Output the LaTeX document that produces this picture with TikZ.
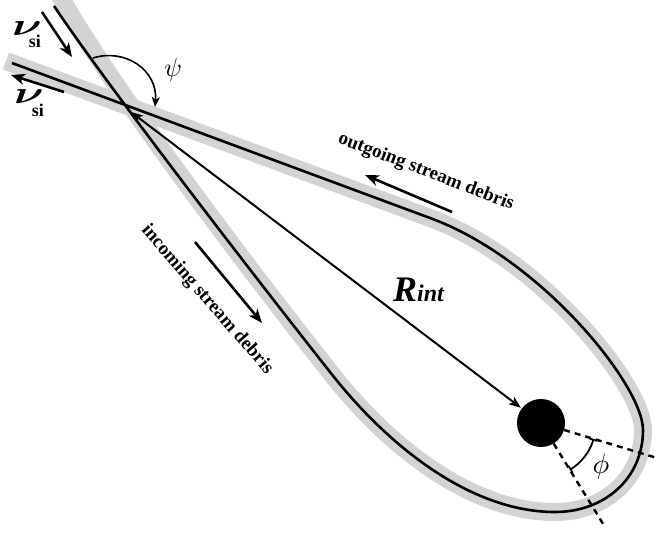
\documentclass[tikz,border=0pt]{standalone}
\usepackage{fontspec}
\setmainfont{Liberation Serif}
\usepackage{graphicx}
\usetikzlibrary{arrows.meta}
\definecolor{bandgray}{RGB}{211,211,211}
\begin{document}
\begin{tikzpicture}[x=1pt,y=-1pt,
  band/.style={line width=18pt, draw=bandgray, line join=round},
  stream/.style={line width=2.6pt, draw=black, line join=round},
  vel/.style={line width=2.6pt, -{Stealth[length=14pt,width=11pt,inset=4pt]}},
  dirarrow/.style={line width=2.6pt, -{Stealth[length=14pt,width=11pt,inset=4pt]}},
  lbl/.style={font=\bfseries\fontsize{19}{19}\selectfont, inner sep=0pt},
  sub/.style={font=\bfseries\fontsize{18}{18}\selectfont, inner sep=0pt},
  ray/.style={line width=2.4pt, dash pattern=on 6pt off 5pt}]
\useasboundingbox (0,0) rectangle (659,534);
% gray band and stream line
\draw[band] (60,-4) .. controls (106,80) and (240,258) .. (330,372)
  .. controls (387,445) and (470,512) .. (555,512)
  .. controls (605,512) and (643,478) .. (643,430)
  .. controls (643,385) and (540,258) .. (430,218) -- (6,61);
\draw[stream] (54,6) .. controls (105,82) and (240,258) .. (330,372)
  .. controls (387,445) and (470,512) .. (555,512)
  .. controls (605,512) and (643,478) .. (643,430)
  .. controls (643,385) and (540,258) .. (430,218) -- (12,63);
% black hole
\node[circle, fill=black, minimum size=48pt, inner sep=0pt] (bh) at (541,423) {};
\coordinate (X) at (131,112);
\draw[line width=2pt, {Stealth[length=12pt,width=9pt,inset=3pt]}-{Stealth[length=12pt,width=9pt,inset=3pt]}, shorten >=1pt] (X) -- (bh);
% dashed rays and phi
\coordinate (d1) at (657,458);
\coordinate (d2) at (605,527);
\draw[ray] (bh) -- (d1);
\draw[ray] (bh) -- (d2);
\path (bh.center) ++(16.8:55) coordinate (phiA);
\draw[line width=1.8pt, {Bar[width=8pt]}-{Bar[width=8pt]}] (phiA) arc[start angle=16.8, end angle=58.4, radius=55];
\node[scale=2.8, inner sep=0pt] (phi) at (601,467) {$\phi$};
% velocity arrows
\coordinate (v1s) at (42,12); \coordinate (v1e) at (72,57);
\draw[vel] (v1s) -- (v1e);
\coordinate (v2s) at (64,92); \coordinate (v2e) at (11,75);
\draw[vel] (v2s) -- (v2e);
\node[inner sep=0pt] (nu1) at (27,29) {\scalebox{4.6}[3.1]{\boldmath$\nu$}};
\node[sub] (si1) at (35,41) {si};
\node[inner sep=0pt] (nu2) at (29,97) {\scalebox{4.6}[3.1]{\boldmath$\nu$}};
\node[sub] (si2) at (38,110) {si};
% psi
\coordinate (psiA) at (93,58); \coordinate (psiB) at (155,107);
\draw[line width=1.6pt, -{Stealth[length=10pt,width=8pt,inset=3pt]}] (psiA) .. controls (125,48) and (158,70) .. (psiB);
\node[scale=2.6, inner sep=0pt] (psi) at (173,70) {$\psi$};
% stream labels
\node[lbl, rotate=-21] (out) at (426,172) {outgoing stream debris};
\coordinate (oa) at (452,212); \coordinate (ob) at (365,175);
\draw[dirarrow] (oa) -- (ob);
\node[lbl, rotate=-49] (inc) at (207,300) {incoming stream debris};
\coordinate (ia) at (195,242); \coordinate (ib) at (262,323);
\draw[dirarrow] (ia) -- (ib);
% R_int
\node[anchor=base west, inner sep=0pt] (rint) at (393,302) {\bfseries\itshape\fontsize{36}{36}\selectfont R\fontsize{24}{24}\selectfont int};
\end{tikzpicture}
\end{document}
